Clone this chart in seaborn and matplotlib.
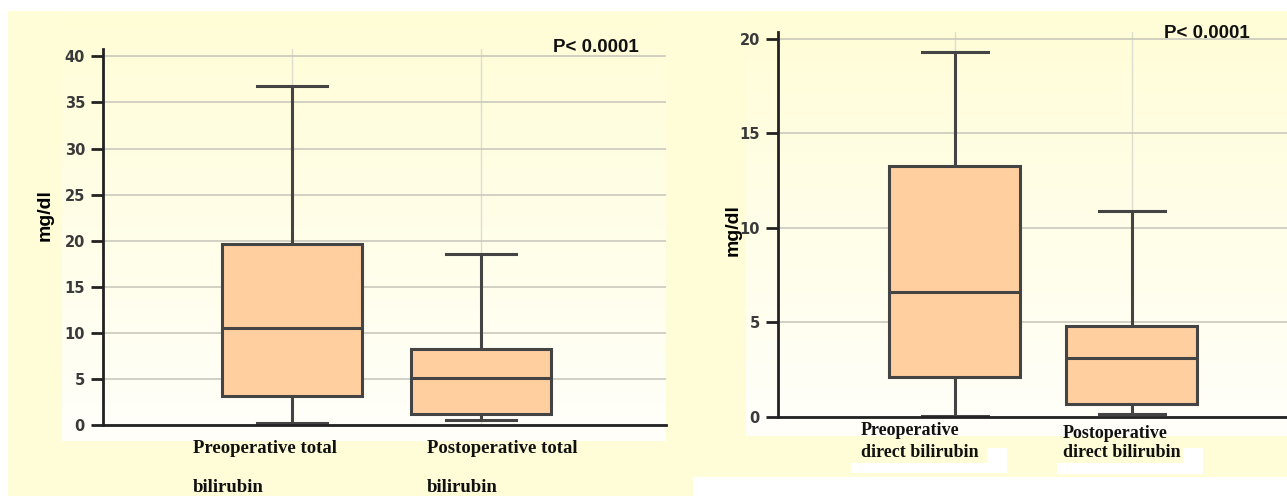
import numpy as np
import pandas as pd
import seaborn as sns
import matplotlib.pyplot as plt
from matplotlib.patches import Rectangle

# --- Data (five-number summaries) ---
total_groups = ["Preoperative total bilirubin", "Postoperative total bilirubin"]
total_pre = [0.2, 3.2, 10.5, 19.6, 36.8]    # min, q1, median, q3, max
total_post = [0.5, 1.2, 5.1, 8.3, 18.6]

direct_groups = ["Preoperative direct bilirubin", "Postoperative direct bilirubin"]
direct_pre = [0.05, 2.1, 6.6, 13.3, 19.3]
direct_post = [0.15, 0.7, 3.1, 4.8, 10.9]

total_ticks = [0, 5, 10, 15, 20, 25, 30, 35, 40]
direct_ticks = [0, 5, 10, 15, 20]

y_label = "mg/dl"
p_text = "P< 0.0001"
total_labels = [["Preoperative total", "bilirubin"], ["Postoperative total", "bilirubin"]]
direct_labels = [["Preoperative", "direct bilirubin"], ["Postoperative", "direct bilirubin"]]

# --- Colours ---
OUTER_BG = "#FFFDD8"
BOX_FACE = "#FFCF9F"
BOX_EDGE = "#444444"

W, H = 1287, 496
fig = plt.figure(figsize=(W / 100, H / 100), dpi=100)
fig.patch.set_facecolor("white")

# background layer in pixel coordinates
bg = fig.add_axes([0, 0, 1, 1], zorder=-10)
bg.axis("off")
bg.add_patch(Rectangle((8, 11), 685, 485, color=OUTER_BG, lw=0))
bg.add_patch(Rectangle((693, 11), W - 693, 466, color=OUTER_BG, lw=0))

top_c = np.array([255, 253, 214]) / 255
bot_c = np.array([255, 255, 250]) / 255
grad = np.linspace(0, 1, 200)[:, None, None]
grad_img = top_c * (1 - grad) + bot_c * grad
bg.imshow(grad_img, extent=(62, 666, 441, 14), aspect="auto", zorder=1)
bg.imshow(grad_img, extent=(746, W, 436, 11), aspect="auto", zorder=1)
bg.add_patch(Rectangle((851, 463), 156, 10, color="white", lw=0, zorder=2))
bg.add_patch(Rectangle((1057, 463), 146, 11, color="white", lw=0, zorder=2))
bg.add_patch(Rectangle((987, 448), 20, 16, color="white", lw=0, zorder=2))
bg.add_patch(Rectangle((1183, 448), 20, 16, color="white", lw=0, zorder=2))
bg.set_xlim(0, W)
bg.set_ylim(H, 0)

tick_font = ["Liberation Sans Narrow", "DejaVu Sans"]


def draw_panel(ax, groups, pre, post, ticks, ymax, xmax):
    df = pd.DataFrame({
        "group": [groups[0]] * len(pre) + [groups[1]] * len(post),
        "value": pre + post,
    })
    sns.boxplot(data=df, x="group", y="value", ax=ax, whis=(0, 100),
                color=BOX_FACE, saturation=1, linecolor=BOX_EDGE,
                linewidth=2.2, width=0.74)
    ax.set_facecolor("none")
    ax.set_xlim(-1.0, xmax)
    ax.set_ylim(0, ymax)
    ax.set_yticks(ticks)
    ax.set_yticklabels([str(t) for t in ticks], family=tick_font,
                       fontsize=10.5, fontweight="bold", color="#3a3a3a")
    ax.set_xlabel("")
    ax.set_ylabel("")
    ax.set_axisbelow(True)
    ax.yaxis.grid(True, color="#C9C9BC", lw=1.2)
    ax.xaxis.grid(True, color="#DEDED0", lw=1.0)
    ax.tick_params(axis="x", length=0, labelbottom=False)
    ax.tick_params(axis="y", direction="out", length=9, width=2,
                   color="#222222", pad=4)
    for side in ("top", "right"):
        ax.spines[side].set_visible(False)
    for side in ("left", "bottom"):
        ax.spines[side].set_color("#222222")
        ax.spines[side].set_linewidth(2)


ax1 = fig.add_axes([103 / W, (H - 425) / H, 563 / W, 376 / H])
draw_panel(ax1, total_groups, total_pre, total_post, total_ticks, 40.8, 1.98)

ax2 = fig.add_axes([778 / W, (H - 417) / H, 509 / W, 385 / H])
draw_panel(ax2, direct_groups, direct_pre, direct_post, direct_ticks, 20.37, 1.876)


# --- Texts placed in pixel coordinates ---
def px(x, y):
    return x / W, 1 - y / H


for (x, y) in [(45, 215), (733, 230)]:
    fig.text(*px(x, y), y_label, rotation=90, ha="center", va="center",
             fontsize=14, fontweight="bold", family="Liberation Sans")

fig.text(*px(553, 48), p_text, ha="left", va="center", fontsize=13.5,
         fontweight="bold", family="Liberation Sans", color="#111111")
fig.text(*px(1164, 33), p_text, ha="left", va="center", fontsize=13.5,
         fontweight="bold", family="Liberation Sans", color="#111111")

for lines, x in zip(total_labels, [193, 427]):
    fig.text(*px(x, 453), lines[0], ha="left", va="baseline", fontsize=13.5,
             fontweight="bold", family="Liberation Serif", color="#111111")
    fig.text(*px(x, 492), lines[1], ha="left", va="baseline", fontsize=13.5,
             fontweight="bold", family="Liberation Serif", color="#111111")

for lines, x, yb in zip(direct_labels, [861, 1063], [435, 438]):
    fig.text(*px(x, yb), lines[0], ha="left", va="baseline", fontsize=13,
             fontweight="bold", family="Liberation Serif", color="#111111")
    fig.text(*px(x, 457), lines[1], ha="left", va="baseline", fontsize=13,
             fontweight="bold", family="Liberation Serif", color="#111111")

fig.savefig("out.png", dpi=100)
